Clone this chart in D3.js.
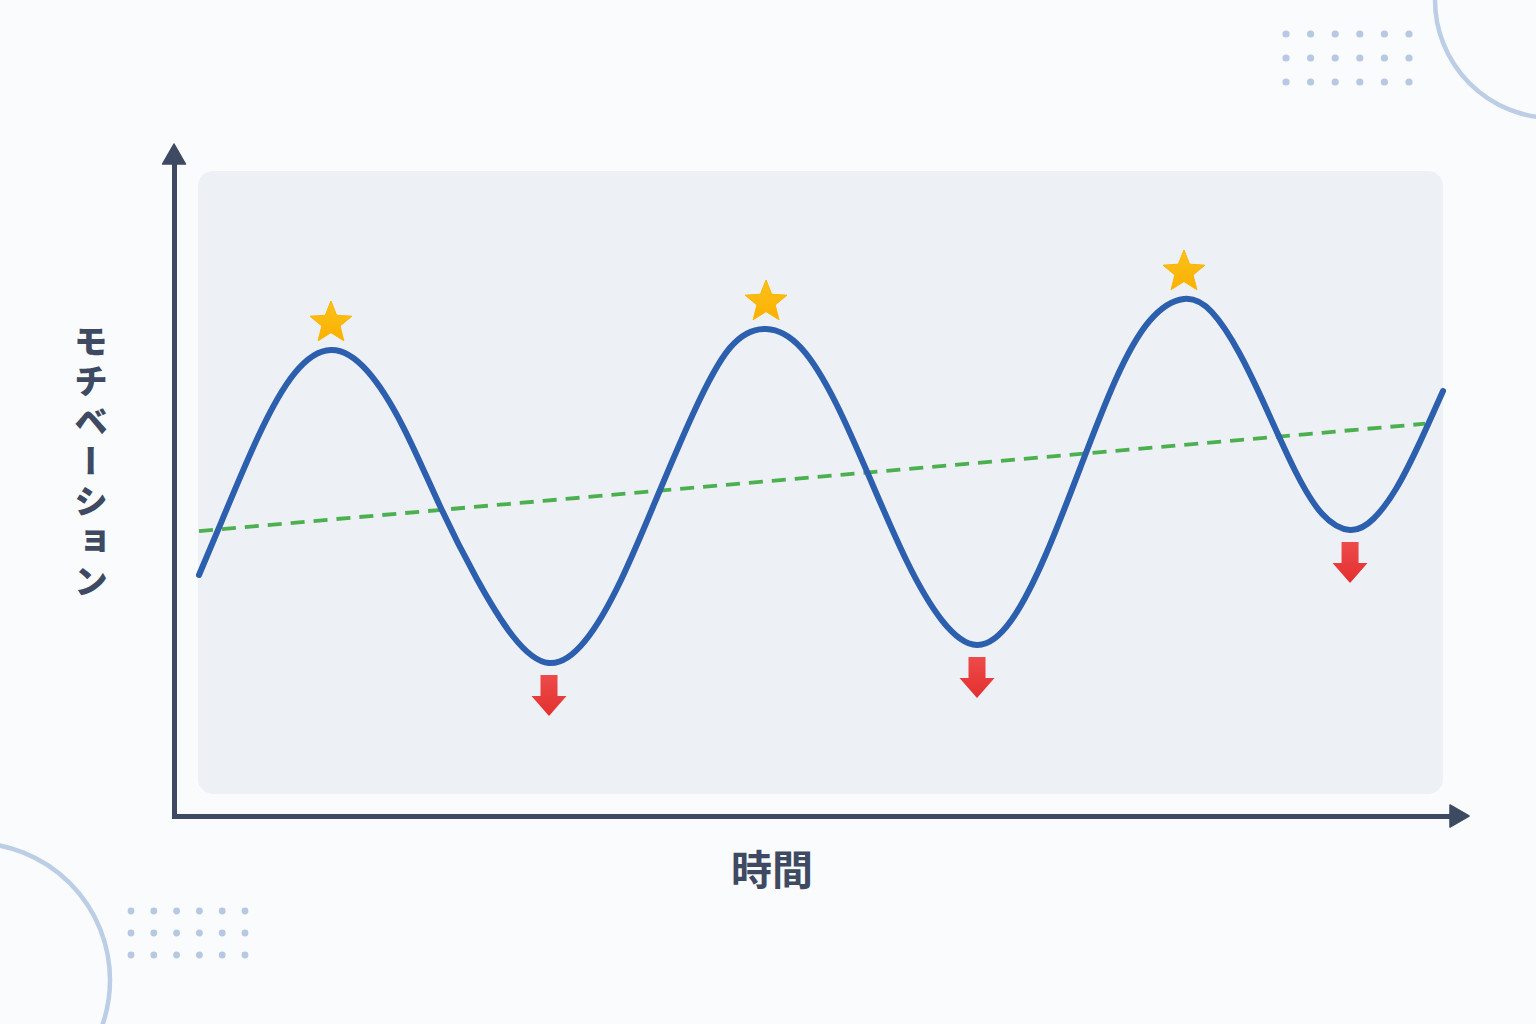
<!DOCTYPE html>
<html><head><meta charset="utf-8">
<script src="https://cdn.jsdelivr.net/npm/d3@7"></script>
<style>
html,body{margin:0;padding:0;background:#fafbfc;}
svg{display:block;}
</style></head>
<body>
<svg id="chart" width="1536" height="1024"></svg>
<script>
// ---- Data (time 0-100, motivation 0-100) ----
const timeVals = [0,1.85,4.77,7.68,10.59,
  13.51,16.43,19.34,22.26,25.18,28.09,
  31.00,33.89,36.80,39.70,42.60,45.51,
  48.33,51.15,53.97,56.80,59.61,62.44,
  65.21,67.98,70.75,73.52,76.28,79.05,
  81.28,83.49,85.71,87.94,90.15,92.38,
  94.24,96.11,97.97,99.84];
const motivationVals = [35.26,44.02,57.53,67.60,71.31,
  67.95,58.81,46.31,34.78,25.48,21.15,
  24.74,34.54,47.92,61.30,71.63,74.68,
  71.63,62.66,50.16,37.50,28.04,24.04,
  28.04,38.62,52.56,66.35,75.96,79.49,
  77.40,70.83,61.70,52.08,45.03,42.47,
  44.23,49.20,56.47,64.74];
const trendTime = [0, 98.4];
const trendVals = [42.3, 59.5];
const peakTime = [10.59, 45.51, 79.05];
const peakVals = [71.31, 74.68, 79.49];
const troughTime = [28.09, 62.44, 92.38];
const troughVals = [21.15, 24.04, 42.47];
const xLabel = "時間";
const yLabel = "モチベーション";

const svg = d3.select("#chart");
const W = 1536, H = 1024;
const ink = "#3e4a62";

// ---- Background decorations ----
svg.append("rect").attr("width", W).attr("height", H).attr("fill", "#fafbfc");
const deco = svg.append("g");
deco.append("circle").attr("cx", 1553).attr("cy", 0).attr("r", 118)
  .attr("fill", "none").attr("stroke", "#bccde6").attr("stroke-width", 4.5);
deco.append("circle").attr("cx", -27).attr("cy", 980).attr("r", 137)
  .attr("fill", "none").attr("stroke", "#bccde6").attr("stroke-width", 4.5);
const dotsTR = d3.cross(d3.range(6), d3.range(3));
deco.selectAll(".dtr").data(dotsTR).join("circle")
  .attr("cx", d => 1286 + d[0] * 24.6).attr("cy", d => 34 + d[1] * 24)
  .attr("r", 3.6).attr("fill", "#b6c8e4");
deco.selectAll(".dbl").data(dotsTR).join("circle")
  .attr("cx", d => 131 + d[0] * 22.8).attr("cy", d => 911 + d[1] * 22)
  .attr("r", 3.4).attr("fill", "#b6c8e4");

// ---- Plot panel ----
svg.append("rect").attr("x", 198).attr("y", 171).attr("width", 1245).attr("height", 623)
  .attr("rx", 15).attr("fill", "#edf0f5");

// ---- Scales ----
const x = d3.scaleLinear().domain([0, 100]).range([199, 1445]);
const y = d3.scaleLinear().domain([0, 100]).range([795, 171]);

// ---- Axes (no ticks) ----
const xAxisScale = d3.scaleLinear().domain([0, 1]).range([174, 1452]);
const yAxisScale = d3.scaleLinear().domain([0, 1]).range([816, 162]);
const xAxisG = svg.append("g").attr("transform", "translate(0,816)")
  .call(d3.axisBottom(xAxisScale).tickValues([]).tickSizeOuter(0));
const yAxisG = svg.append("g").attr("transform", "translate(174,0)")
  .call(d3.axisLeft(yAxisScale).tickValues([]).tickSizeOuter(0));
[xAxisG, yAxisG].forEach(g => g.select(".domain")
  .attr("stroke", ink).attr("stroke-width", 5).attr("stroke-linecap", "square"));
// arrowheads
svg.append("path")
  .attr("d", `M${xAxisScale(1)-2},805 L1469,816 L${xAxisScale(1)-2},827 Z`)
  .attr("fill", ink).attr("stroke", ink).attr("stroke-width", 1.5).attr("stroke-linejoin", "round");
svg.append("path")
  .attr("d", `M162.5,${yAxisScale(1)+2} L174,144 L185.5,${yAxisScale(1)+2} Z`)
  .attr("fill", ink).attr("stroke", ink).attr("stroke-width", 1.5).attr("stroke-linejoin", "round");

// ---- Trend line ----
const trendData = trendTime.map((t, i) => [t, trendVals[i]]);
svg.append("path").datum(trendData)
  .attr("d", d3.line().x(d => x(d[0])).y(d => y(d[1])))
  .attr("fill", "none").attr("stroke", "#4caf50").attr("stroke-width", 3.8)
  .attr("stroke-dasharray", "14 9");

// ---- Motivation curve ----
const curveData = timeVals.map((t, i) => [t, motivationVals[i]]);
svg.append("path").datum(curveData)
  .attr("d", d3.line().x(d => x(d[0])).y(d => y(d[1])).curve(d3.curveNatural))
  .attr("fill", "none").attr("stroke", "#2c5fad").attr("stroke-width", 6)
  .attr("stroke-linecap", "round").attr("stroke-linejoin", "round");

// ---- Star markers above peaks ----
const defs = svg.append("defs");
const sg = defs.append("linearGradient").attr("id", "starG").attr("x1", 0).attr("y1", 0).attr("x2", 0).attr("y2", 1);
sg.append("stop").attr("offset", "0%").attr("stop-color", "#fcc21b");
sg.append("stop").attr("offset", "100%").attr("stop-color", "#fbb000");
const ag = defs.append("linearGradient").attr("id", "arrG").attr("x1", 0).attr("y1", 0).attr("x2", 0).attr("y2", 1);
ag.append("stop").attr("offset", "0%").attr("stop-color", "#ee4a4a");
ag.append("stop").attr("offset", "100%").attr("stop-color", "#e2302f");

const R = 22, r = 9.6;
const starPts = d3.range(10).map(i => {
  const a = -Math.PI / 2 + i * Math.PI / 5;
  const rr = i % 2 === 0 ? R : r;
  return [rr * Math.cos(a), rr * Math.sin(a)];
});
const peaks = peakTime.map((t, i) => [t, peakVals[i]]);
svg.selectAll(".star").data(peaks).join("path")
  .attr("class", "star")
  .attr("transform", d => `translate(${x(d[0])},${y(d[1]) - 27})`)
  .attr("d", "M" + starPts.map(p => p.join(",")).join("L") + "Z")
  .attr("fill", "url(#starG)").attr("stroke", "#fbb400").attr("stroke-width", 1).attr("stroke-linejoin", "round");

// ---- Down arrows below troughs ----
const troughs = troughTime.map((t, i) => [t, troughVals[i]]);
svg.selectAll(".arr").data(troughs).join("path")
  .attr("class", "arr")
  .attr("transform", d => `translate(${x(d[0])},${y(d[1])})`)
  .attr("d", "M-8.5,12 L8.5,12 L8.5,33 L17.5,33 L0,53 L-17.5,33 L-8.5,33 Z")
  .attr("fill", "url(#arrG)");

// ---- Labels ----
svg.append("text").text(xLabel)
  .attr("x", 772).attr("y", 885)
  .attr("text-anchor", "middle")
  .attr("font-family", "'Noto Sans CJK JP', 'Noto Sans', sans-serif")
  .attr("font-weight", 700).attr("font-size", 41).attr("fill", ink);

svg.append("text").text(yLabel)
  .attr("x", 91).attr("y", 324)
  .attr("font-family", "'Noto Sans CJK JP', 'Noto Sans', sans-serif")
  .attr("font-weight", 900).attr("font-size", 34).attr("fill", ink)
  .style("writing-mode", "vertical-rl").style("text-orientation", "upright")
  .attr("letter-spacing", 6);
</script>
</body></html>
